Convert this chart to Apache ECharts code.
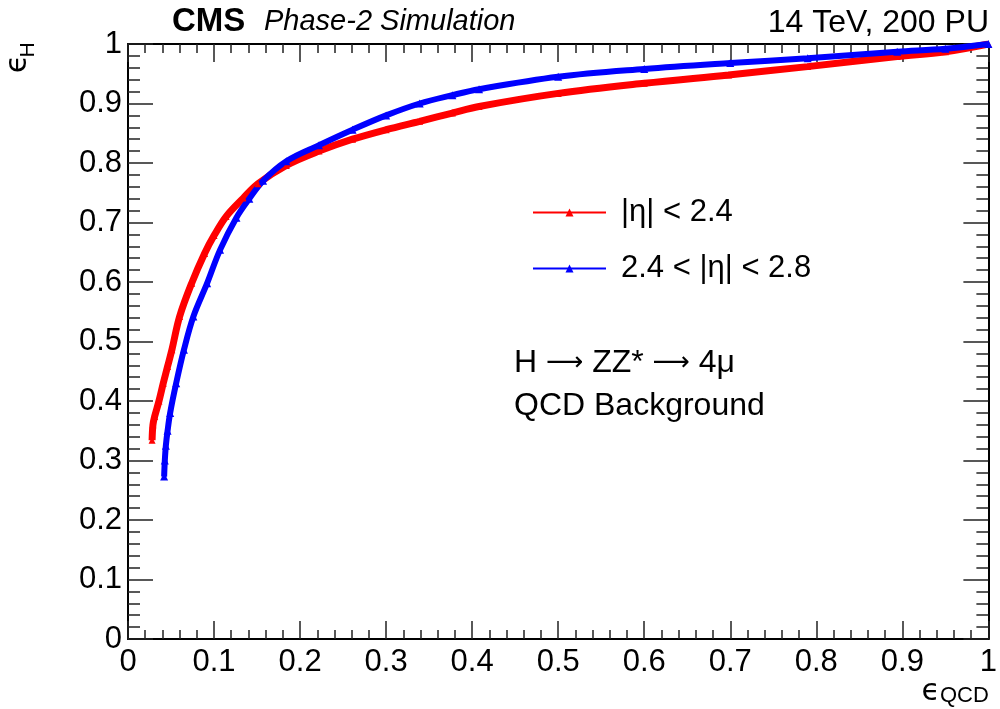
<!DOCTYPE html>
<html>
<head>
<meta charset="utf-8">
<title>Higgs efficiency vs QCD efficiency</title>
<script src="https://cdn.jsdelivr.net/npm/echarts@6/dist/echarts.min.js"></script>
<style>
  html, body { margin: 0; padding: 0; background: #fff; }
  #chart { width: 1000px; height: 709px; }
</style>
</head>
<body>
<div id="chart"></div>
<script>
// Efficiency curves: background (QCD) efficiency vs signal (H) efficiency
const centralName = '|\u03b7| < 2.4';
const forwardName = '2.4 < |\u03b7| < 2.8';

const centralEffQCD = [0.028, 0.029, 0.031, 0.036, 0.041, 0.046, 0.051, 0.060, 0.074, 0.089, 0.100, 0.114, 0.134, 0.151, 0.184, 0.222, 0.261, 0.300, 0.339, 0.377, 0.408, 0.5, 0.6, 0.698, 0.79, 0.894, 0.95, 1.0];
const centralEffH   = [0.334, 0.36, 0.374, 0.40, 0.430, 0.458, 0.486, 0.542, 0.598, 0.648, 0.678, 0.710, 0.741, 0.765, 0.796, 0.820, 0.840, 0.856, 0.870, 0.884, 0.895, 0.917, 0.934, 0.948, 0.962, 0.979, 0.987, 1.0];

const forwardEffQCD = [0.042, 0.0428, 0.044, 0.046, 0.049, 0.056, 0.065, 0.076, 0.092, 0.107, 0.126, 0.141, 0.157, 0.184, 0.222, 0.261, 0.300, 0.339, 0.377, 0.408, 0.5, 0.6, 0.7, 0.79, 0.894, 0.95, 1.0];
const forwardEffH   = [0.273, 0.30, 0.325, 0.350, 0.380, 0.430, 0.486, 0.542, 0.598, 0.654, 0.708, 0.740, 0.770, 0.803, 0.830, 0.856, 0.880, 0.900, 0.914, 0.924, 0.945, 0.958, 0.968, 0.976, 0.987, 0.992, 1.0];

const xAxisLabel = 'QCD';
const yAxisLabel = 'H';

function zip(xs, ys) { return xs.map((x, i) => [x, ys[i]]); }

const FONT = '"Liberation Sans", Arial, Helvetica, sans-serif';
const tickLabelSize = 31;
const tickStyle = { color: '#222', width: 1.5 };

function frameAxis(extra) {
  return Object.assign({
    type: 'value', min: 0, max: 1, interval: 0.1,
    splitLine: { show: false },
    axisLine: { show: true, onZero: false, lineStyle: { color: '#000', width: 2 } },
    minorSplitLine: { show: false }
  }, extra);
}

const fmt = v => (v === 0 ? '0' : v === 1 ? '1' : v.toFixed(1));

const chart = echarts.init(document.getElementById('chart'), null, { renderer: 'canvas' });

chart.setOption({
  animation: false,
  backgroundColor: '#fff',
  grid: { left: 128, right: 9, top: 44, bottom: 70 },
  xAxis: [
    frameAxis({
      position: 'bottom',
      axisTick: { inside: true, length: 18, lineStyle: tickStyle },
      minorTick: { show: true, splitNumber: 5, length: 9, lineStyle: tickStyle },
      axisLabel: { show: true, margin: 8, color: '#000', fontFamily: FONT, fontSize: tickLabelSize, formatter: fmt }
    }),
    frameAxis({
      position: 'top',
      axisTick: { inside: true, length: 18, lineStyle: tickStyle },
      minorTick: { show: true, splitNumber: 5, length: 9, lineStyle: tickStyle },
      axisLabel: { show: false }
    })
  ],
  yAxis: [
    frameAxis({
      position: 'left',
      axisTick: { inside: true, length: 25, lineStyle: tickStyle },
      minorTick: { show: true, splitNumber: 5, length: 12, lineStyle: tickStyle },
      axisLabel: { show: true, margin: 6, color: '#000', fontFamily: FONT, fontSize: tickLabelSize, formatter: fmt }
    }),
    frameAxis({
      position: 'right',
      axisTick: { inside: true, length: 25, lineStyle: tickStyle },
      minorTick: { show: true, splitNumber: 5, length: 12, lineStyle: tickStyle },
      axisLabel: { show: false }
    })
  ],
  legend: {
    left: 527, top: 192,
    orient: 'vertical',
    itemWidth: 73, itemHeight: 10, itemGap: 25,
    lineStyle: { width: 2 },
    textStyle: { color: '#000', fontFamily: FONT, fontSize: 31, padding: [0, 0, 0, 10] },
    data: [centralName, forwardName]
  },
  series: [
    {
      name: centralName, type: 'line',
      xAxisIndex: 0, yAxisIndex: 0,
      data: zip(centralEffQCD, centralEffH),
      smooth: 0.35,
      symbol: 'triangle', symbolSize: 7, showSymbol: true,
      color: '#ff0000',
      itemStyle: { color: '#ff0000' },
      lineStyle: { color: '#ff0000', width: 7 }
    },
    {
      name: forwardName, type: 'line',
      xAxisIndex: 0, yAxisIndex: 0,
      data: zip(forwardEffQCD, forwardEffH),
      smooth: 0.35,
      symbol: 'triangle', symbolSize: 8, showSymbol: true,
      color: '#0000ff',
      itemStyle: { color: '#0000ff' },
      lineStyle: { color: '#0000ff', width: 6 }
    }
  ],
  graphic: [
    { type: 'text', x: 172, y: 22, style: { text: 'CMS', font: 'bold 33px ' + FONT, fill: '#000', align: 'left', verticalAlign: 'middle' } },
    { type: 'text', x: 264, y: 22, style: { text: 'Phase-2 Simulation', font: 'italic 29px ' + FONT, fill: '#000', align: 'left', verticalAlign: 'middle' } },
    { type: 'text', x: 989, y: 23, style: { text: '14 TeV, 200 PU', font: '32px ' + FONT, fill: '#000', align: 'right', verticalAlign: 'middle' } },
    {
      type: 'text', x: 514, y: 363,
      style: {
        text: '{t|H }{a|\u27f6}{t| ZZ* }{a|\u27f6}{t| 4\u03bc}',
        fill: '#000', align: 'left', verticalAlign: 'middle',
        rich: {
          t: { font: '32px ' + FONT, fill: '#000' },
          a: { font: '26px "DejaVu Sans", sans-serif', fill: '#000' }
        }
      }
    },
    { type: 'text', x: 514, y: 406, style: { text: 'QCD Background', font: '32px ' + FONT, fill: '#000', align: 'left', verticalAlign: 'middle' } },
    // x-axis title: epsilon with subscript
    { type: 'text', x: 940, y: 692, style: { text: '\u03f5', font: '30px "DejaVu Sans", sans-serif', fill: '#000', align: 'right', verticalAlign: 'middle' } },
    { type: 'text', x: 940, y: 696, style: { text: xAxisLabel, font: '22px ' + FONT, fill: '#000', align: 'left', verticalAlign: 'middle' } },
    // y-axis title, rotated
    { type: 'text', x: 18, y: 64, rotation: Math.PI / 2, style: { text: '\u03f5', font: '30px "DejaVu Sans", sans-serif', fill: '#000', align: 'center', verticalAlign: 'middle' } },
    { type: 'text', x: 28, y: 50, rotation: Math.PI / 2, style: { text: yAxisLabel, font: '21px ' + FONT, fill: '#000', align: 'center', verticalAlign: 'middle' } }
  ]
});
</script>
</body>
</html>
